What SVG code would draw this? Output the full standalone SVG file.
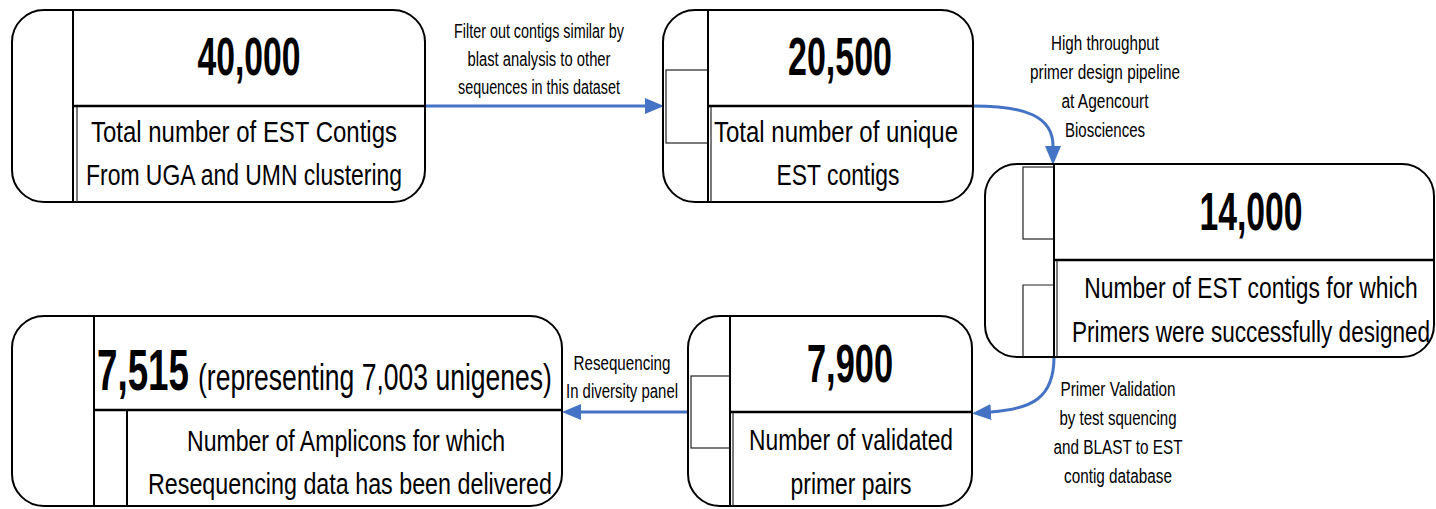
<svg xmlns="http://www.w3.org/2000/svg" width="1436" height="509" viewBox="0 0 1436 509">
<style>
text{font-family:"Liberation Sans Narrow","Liberation Sans",Arial,sans-serif;fill:#000}
.title{font-weight:bold;font-size:53px;text-anchor:middle}
.body{font-size:30px;text-anchor:middle}
.lbl{font-size:20px;text-anchor:middle}
.box{fill:#fff;stroke:#000;stroke-width:2}
.div{stroke:#000;stroke-width:2.5;fill:none}
.vd{stroke:#000;stroke-width:2;fill:none}
.thin{stroke:#222;stroke-width:1.2;fill:none}
.conn{stroke:#4472C4;stroke-width:3;fill:none}
</style>
<defs>
<marker id="ah" markerUnits="userSpaceOnUse" markerWidth="20" markerHeight="16" refX="0" refY="8" orient="auto" viewBox="0 0 20 16">
<path d="M0,0 L19,8 L0,16 Z" fill="#4472C4"/>
</marker>
</defs>

<g id="connectors">
<path class="conn" d="M425,106 L645,106" marker-end="url(#ah)"/>
<path class="conn" d="M973,106 C1025,106 1053,116 1053,146" marker-end="url(#ah)"/>
<path class="conn" d="M1054,357 C1054,398 1032,409 991,412" marker-end="url(#ah)"/>
<path class="conn" d="M688,412 L581,412" marker-end="url(#ah)"/>
</g>

<g id="label-filter">
<text class="lbl" x="539" y="38" textLength="170" lengthAdjust="spacingAndGlyphs">Filter out contigs similar by</text>
<text class="lbl" x="539" y="66" textLength="143" lengthAdjust="spacingAndGlyphs">blast analysis to other</text>
<text class="lbl" x="539" y="94" textLength="162" lengthAdjust="spacingAndGlyphs">sequences in this dataset</text>
</g>
<g id="label-pipeline">
<text class="lbl" x="1105" y="50" textLength="108" lengthAdjust="spacingAndGlyphs">High throughput</text>
<text class="lbl" x="1105" y="79" textLength="150" lengthAdjust="spacingAndGlyphs">primer design pipeline</text>
<text class="lbl" x="1105" y="108" textLength="87" lengthAdjust="spacingAndGlyphs">at Agencourt</text>
<text class="lbl" x="1105" y="137" textLength="80" lengthAdjust="spacingAndGlyphs">Biosciences</text>
</g>
<g id="label-validation">
<text class="lbl" x="1118" y="396" textLength="115" lengthAdjust="spacingAndGlyphs">Primer Validation</text>
<text class="lbl" x="1118" y="425" textLength="117" lengthAdjust="spacingAndGlyphs">by test squencing</text>
<text class="lbl" x="1118" y="454" textLength="129" lengthAdjust="spacingAndGlyphs">and BLAST to EST</text>
<text class="lbl" x="1118" y="483" textLength="108" lengthAdjust="spacingAndGlyphs">contig database</text>
</g>
<g id="label-reseq">
<text class="lbl" x="622" y="370" textLength="97" lengthAdjust="spacingAndGlyphs">Resequencing</text>
<text class="lbl" x="622" y="398" textLength="112" lengthAdjust="spacingAndGlyphs">In diversity panel</text>
</g>

<g id="node-40000">
<rect class="box" x="12" y="10" width="413" height="192" rx="32"/>
<line class="vd" x1="73" y1="10" x2="73" y2="202"/>
<line class="div" x1="73" y1="106" x2="425" y2="106"/>
<line class="thin" x1="77" y1="107" x2="77" y2="202"/>
<text class="title" x="249" y="75" textLength="103" lengthAdjust="spacingAndGlyphs">40,000</text>
<text class="body" x="244" y="142" textLength="306" lengthAdjust="spacingAndGlyphs">Total number of EST Contigs</text>
<text class="body" x="244" y="185" textLength="316" lengthAdjust="spacingAndGlyphs">From UGA and UMN clustering</text>
</g>

<g id="node-20500">
<rect class="box" x="663" y="10" width="310" height="192" rx="32"/>
<rect class="thin" x="666" y="70" width="42" height="73"/>
<line class="vd" x1="708" y1="10" x2="708" y2="202"/>
<line class="div" x1="708" y1="106" x2="973" y2="106"/>
<line class="thin" x1="711" y1="107" x2="711" y2="202"/>
<text class="title" x="840" y="75" textLength="104" lengthAdjust="spacingAndGlyphs">20,500</text>
<text class="body" x="836" y="142" textLength="244" lengthAdjust="spacingAndGlyphs">Total number of unique</text>
<text class="body" x="838" y="185" textLength="123" lengthAdjust="spacingAndGlyphs">EST contigs</text>
</g>

<g id="node-14000">
<rect class="box" x="985" y="164" width="449" height="193" rx="32"/>
<rect class="thin" x="1023" y="167" width="31" height="72"/>
<path class="thin" d="M1054,285 L1023,285 L1023,357"/>
<line class="vd" x1="1054" y1="164" x2="1054" y2="357"/>
<line class="div" x1="1054" y1="260" x2="1434" y2="260"/>
<line class="thin" x1="1057" y1="261" x2="1057" y2="357"/>
<text class="title" x="1251" y="230" textLength="103" lengthAdjust="spacingAndGlyphs">14,000</text>
<text class="body" transform="translate(1251,298) scale(0.926,1)" x="0" y="0" textLength="360" lengthAdjust="spacingAndGlyphs">Number of EST contigs for which</text>
<text class="body" transform="translate(1251,342) scale(0.916,1)" x="0" y="0" textLength="391" lengthAdjust="spacingAndGlyphs">Primers were successfully designed</text>
</g>

<g id="node-7900">
<rect class="box" x="688" y="316" width="284" height="190" rx="32"/>
<rect class="thin" x="691" y="376" width="39" height="72"/>
<line class="vd" x1="730" y1="316" x2="730" y2="506"/>
<line class="div" x1="730" y1="412" x2="972" y2="412"/>
<line class="thin" x1="733" y1="413" x2="733" y2="506"/>
<text class="title" x="850" y="382" textLength="86" lengthAdjust="spacingAndGlyphs">7,900</text>
<text class="body" x="851" y="450" textLength="204" lengthAdjust="spacingAndGlyphs">Number of validated</text>
<text class="body" x="851" y="494" textLength="121" lengthAdjust="spacingAndGlyphs">primer pairs</text>
</g>

<g id="node-7515">
<rect class="box" x="12" y="316" width="550" height="190" rx="32"/>
<line class="vd" x1="94" y1="316" x2="94" y2="506"/>
<line class="div" x1="94" y1="410" x2="562" y2="410"/>
<line class="vd" x1="127" y1="410" x2="127" y2="506"/>
<text transform="translate(97,390) scale(0.773,1)" x="0" y="0" style="font-weight:bold;font-size:58px" textLength="119" lengthAdjust="spacingAndGlyphs">7,515</text>
<text transform="translate(198,390) scale(0.876,1)" x="0" y="0" style="font-size:37px" textLength="404" lengthAdjust="spacingAndGlyphs">(representing 7,003 unigenes)</text>
<text class="body" x="346" y="451" textLength="318" lengthAdjust="spacingAndGlyphs">Number of Amplicons for which</text>
<text class="body" x="350" y="494" textLength="404" lengthAdjust="spacingAndGlyphs">Resequencing data has been delivered</text>
</g>
</svg>
